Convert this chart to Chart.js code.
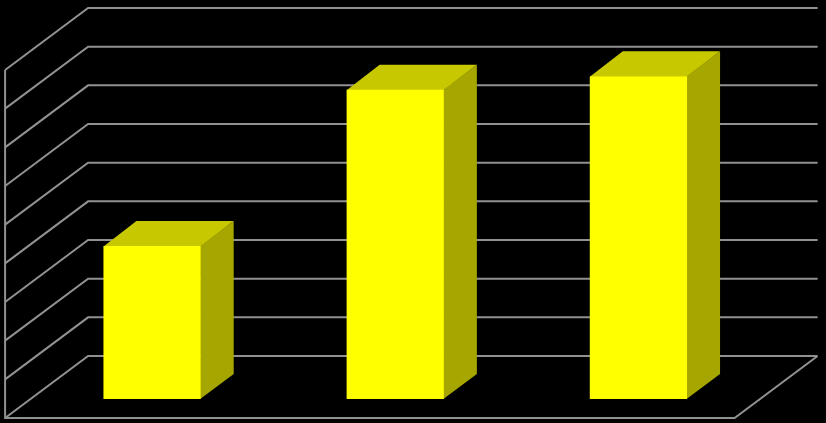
<!DOCTYPE html>
<html>
<head>
<meta charset="utf-8">
<script src="https://cdn.jsdelivr.net/npm/chart.js@4/dist/chart.umd.min.js"></script>
<style>
  html, body { margin: 0; padding: 0; background: #000; }
  #wrap { width: 826px; height: 423px; position: relative; }
</style>
</head>
<body>
<div id="wrap"><canvas id="chart3d"></canvas></div>
<script>
// data (no labels shown on the original)
var categories = ['1', '2', '3'];
var values = [3.96, 8.0, 8.35];
var tickValues = [0, 1, 2, 3, 4, 5, 6, 7, 8, 9];

// oblique "3D" offsets, relative to the bar front plane
var backShift = { x: 57.6, y: -43 };   // back wall
var frontShift = { x: -25.4, y: 19 };  // front edge of floor / left wall
var barDepth = { x: 33, y: -25 };

var gridColor = '#919191';
var frontColor = '#ffff00';
var topColor = '#c8c800';
var sideColor = '#a6a600';

var walls3d = {
  id: 'walls3d',
  beforeDatasetsDraw: function(chart) {
    var c = chart.ctx, a = chart.chartArea, ys = chart.scales.y;
    c.save();
    c.strokeStyle = gridColor;
    c.lineWidth = 2;
    c.lineJoin = 'miter';
    c.beginPath();
    tickValues.forEach(function(v) {
      var py = ys.getPixelForValue(v);
      c.moveTo(a.left + frontShift.x, py + frontShift.y);
      c.lineTo(a.left + backShift.x, py + backShift.y);
      c.lineTo(a.right + backShift.x, py + backShift.y);
    });
    var top = ys.getPixelForValue(tickValues[tickValues.length - 1]);
    var zero = ys.getPixelForValue(0);
    // left wall front edge
    c.moveTo(a.left + frontShift.x, top + frontShift.y);
    c.lineTo(a.left + frontShift.x, zero + frontShift.y);
    // floor front + right edge
    c.lineTo(a.right + frontShift.x, zero + frontShift.y);
    c.lineTo(a.right + backShift.x, zero + backShift.y);
    c.stroke();

    // top and side faces of the bars
    chart.getDatasetMeta(0).data.forEach(function(bar) {
      var p = bar.getProps(['x', 'y', 'base', 'width'], true);
      var l = p.x - p.width / 2, r = p.x + p.width / 2;
      c.fillStyle = topColor;
      c.beginPath();
      c.moveTo(l, p.y + 0.5);
      c.lineTo(l + barDepth.x, p.y + barDepth.y);
      c.lineTo(r + barDepth.x, p.y + barDepth.y);
      c.lineTo(r, p.y + 0.5);
      c.closePath();
      c.fill();
      c.fillStyle = sideColor;
      c.beginPath();
      c.moveTo(r - 0.5, p.y);
      c.lineTo(r + barDepth.x, p.y + barDepth.y);
      c.lineTo(r + barDepth.x, p.base + barDepth.y);
      c.lineTo(r - 0.5, p.base);
      c.closePath();
      c.fill();
    });
    c.restore();
  }
};

new Chart(document.getElementById('chart3d'), {
  type: 'bar',
  data: {
    labels: categories,
    datasets: [{
      data: values,
      backgroundColor: frontColor,
      borderWidth: 0,
      barPercentage: 0.4,
      categoryPercentage: 1.0
    }]
  },
  options: {
    responsive: true,
    maintainAspectRatio: false,
    animation: false,
    layout: { padding: { left: 30.5, right: 66, top: 51, bottom: 24 } },
    plugins: { legend: { display: false }, tooltip: { enabled: false } },
    scales: {
      x: { display: false },
      y: { display: false, min: 0, max: 9 }
    }
  },
  plugins: [walls3d]
});
</script>
</body>
</html>
